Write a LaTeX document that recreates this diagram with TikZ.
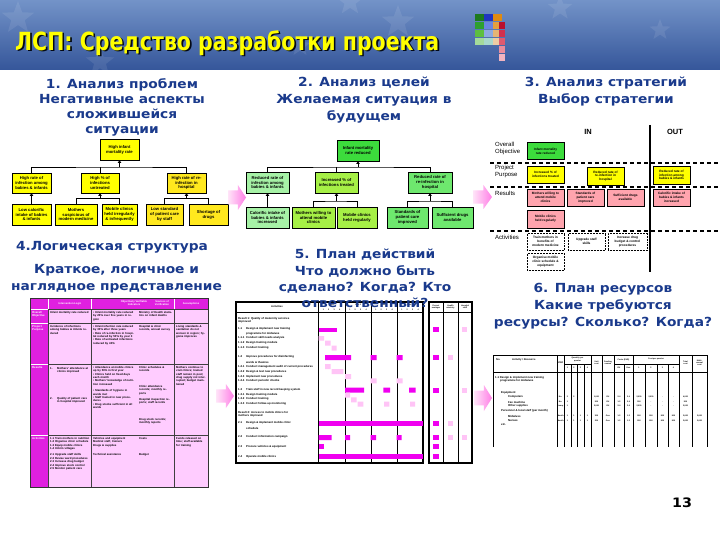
\documentclass[tikz,border=0pt]{standalone}
\usepackage{fontspec}
\setmainfont{Liberation Sans}
\newfontfamily\hdfont{DejaVu Sans}[FakeStretch=1.1]
\newfontfamily\ttlfont{DejaVu Sans}[FakeStretch=0.82]
\usetikzlibrary{arrows.meta,shapes.geometric}
\definecolor{navy}{HTML}{1A3A8C}
\definecolor{ylw}{HTML}{FFFF00}
\definecolor{ylw2}{HTML}{FFE81E}
\definecolor{gA}{HTML}{3CDC3C}
\definecolor{gL}{HTML}{A6F2A6}
\definecolor{gY}{HTML}{A6F046}
\definecolor{gM}{HTML}{6EE86E}
\definecolor{pkR}{HTML}{FFA4AE}
\definecolor{mag}{HTML}{E020E0}
\definecolor{lpk}{HTML}{FFCCFF}
\definecolor{bmag}{HTML}{F000F0}
\definecolor{blt}{HTML}{FFC4F6}
\definecolor{arrL}{HTML}{FFE4F8}
\definecolor{arrR}{HTML}{FF7EE6}
\definecolor{bandT}{HTML}{7393C8}
\definecolor{bandB}{HTML}{35569A}
\tikzset{
  tb/.style={draw=black,line width=0.5pt,align=center,inner sep=0pt,font=\fontsize{4.2}{4.9}\selectfont\bfseries},
  sb/.style={draw=black,line width=0.5pt,align=center,inner sep=0pt,minimum width=37pt,minimum height=17pt,font=\fontsize{3.2}{3.8}\selectfont\bfseries},
  ab/.style={sb,densely dotted,line width=0.7pt,fill=white},
  conn/.style={line width=0.7pt},
  arr/.style={-{Triangle[length=2.6pt,width=3.4pt]}},
  head/.style={font=\hdfont\bfseries\fontsize{12.5}{15}\selectfont,text=navy,align=center,inner sep=0pt},
  lbl/.style={font=\fontsize{6}{6.8}\selectfont,anchor=north west,inner sep=0pt,align=left},
  tx/.style={font=\fontsize{2.8}{3.4}\selectfont\bfseries,anchor=north west,inner sep=0pt,align=left},
  ty/.style={font=\fontsize{2.8}{3.3}\selectfont\bfseries,anchor=west,inner sep=0pt},
  tc/.style={font=\fontsize{2.6}{3}\selectfont\bfseries,inner sep=0pt,align=center},
  tq/.style={font=\fontsize{2}{2.2}\selectfont\bfseries,inner sep=0pt,align=center},
  pinkarrow/.pic={\shade[left color=arrL,right color=arrR] (0,0.22) -- (0.55,0.22) -- (0.55,0) -- (1,0.5) -- (0.55,1) -- (0.55,0.78) -- (0,0.78) -- cycle;},
}
\begin{document}
\begin{tikzpicture}[x=1pt,y=-1pt]
\useasboundingbox (0,0) rectangle (720,540);
\fill[white] (0,0) rectangle (720,540);
% ---------- title band
\shade[top color=bandT,bottom color=bandB] (0,0) rectangle (720,70);
\foreach \sx/\sy/\ss in {18/18/34,100/62/30,350/2/28,398/22/34,300/46/22,560/8/26,660/30/22}
  \node[star,star points=5,star point ratio=2.4,fill=white,opacity=0.09,minimum size=\ss pt,inner sep=0pt] at (\sx,\sy) {};
\node[font=\ttlfont\bfseries\fontsize{25}{25}\selectfont,text=black!85!navy,anchor=west,inner sep=0pt] (ttlS) at (16.6,44.6) {ЛСП: Средство разработки проекта};
\node[font=\ttlfont\bfseries\fontsize{25}{25}\selectfont,text=ylw,anchor=west,inner sep=0pt] (ttl) at (15,43) {ЛСП: Средство разработки проекта};
% logo
\foreach \r/\c in {0/1E7A1E,1/2EA02E,2/5DBF3F,3/A4DA9A} {\definecolor{tmpc}{HTML}{\c}\fill[tmpc] (475,14+\r*8) rectangle ++(8.5,7.5);}
\foreach \r/\c in {0/2036C0,1/6A86E0,2/8EAAE0,3/A8D8CC} {\definecolor{tmpc}{HTML}{\c}\fill[tmpc] (484,14+\r*8) rectangle ++(8.5,7.5);}
\foreach \r/\c in {0/E08A10,1/E3A040,2/E6B474,3/EDCCA4} {\definecolor{tmpc}{HTML}{\c}\fill[tmpc] (493,14+\r*8) rectangle ++(8.5,7.5);}
\foreach \r/\c in {0/B8102E,1/D0304E,2/E05A70,3/EA8C9C,4/F2B4C0} {\definecolor{tmpc}{HTML}{\c}\fill[tmpc] (499,22+\r*8) rectangle ++(5.5,7.5);}
% ---------- headings
\node[head,font=\hdfont\bfseries\fontsize{12.5}{15}\selectfont] (h1) at (122,107.5) {1. Анализ проблем\\Негативные аспекты\\сложившейся\\ситуации};
\node[head,font=\hdfont\bfseries\fontsize{12.5}{17}\selectfont] (h2) at (364,100) {2. Анализ целей\\Желаемая ситуация в\\будущем};
\node[head,font=\hdfont\bfseries\fontsize{12.5}{17}\selectfont] (h3) at (606,91.5) {3. Анализ стратегий\\Выбор стратегии};
\node[head] (h4a) at (112,247) {4.Логическая структура};
\node[head,font=\hdfont\bfseries\fontsize{12.5}{17}\selectfont] (h4b) at (116.5,278.5) {Краткое, логичное и\\наглядное представление};
\node[head,font=\hdfont\bfseries\fontsize{12.5}{17}\selectfont] (h6) at (603,306) {6. План ресурсов\\Какие требуются\\ресурсы? Сколько? Когда?};
% ---------- section 1 tree
\coordinate (b1) at (0,167);
\coordinate (b1s) at (0,198.5);
\node[tb,fill=ylw,minimum width=39pt,minimum height=21pt] (p0) at (119.5,149.5) {High infant\\mortality rate};
\node[tb,fill=ylw,minimum width=39pt,minimum height=20pt] (p1) at (31.5,183) {High rate of\\infection among\\babies \& infants};
\node[tb,fill=ylw,minimum width=38pt,minimum height=20pt] (p2) at (100,183) {High \% of\\infections\\untreated};
\node[tb,fill=ylw2,minimum width=39pt,minimum height=20pt] (p3) at (186.5,183) {High rate of re-\\infection in\\hospital};
\node[tb,fill=ylw,minimum width=39pt,minimum height=21pt] (p4) at (31.5,214.5) {Low calorific\\intake of babies\\\& infants};
\node[tb,fill=ylw,minimum width=42pt,minimum height=21pt] (p5) at (76,214.5) {Mothers\\suspicious of\\modern medicine};
\node[tb,fill=ylw,minimum width=35pt,minimum height=21pt] (p6) at (119.5,214.5) {Mobile clinics\\held irregularly\\\& infrequently};
\node[tb,fill=ylw2,minimum width=37pt,minimum height=21pt] (p7) at (164.5,214.5) {Low standard\\of patient care\\by staff};
\node[tb,fill=ylw2,minimum width=39pt,minimum height=21pt] (p8) at (208.5,214.5) {Shortage of\\drugs};
\draw[conn] (p1.north) |- (p0.south |- b1) -| (p3.north);
\draw[conn] (p2.north) -- (p2.north |- b1);
\draw[conn,arr] (p0.south |- b1) -- (p0.south);
\draw[conn,arr] (p4.north) -- (p1.south);
\draw[conn] (p5.north) |- (p2.south |- b1s) -| (p6.north);
\draw[conn,arr] (p2.south |- b1s) -- (p2.south);
\draw[conn] (p7.north) |- (p3.south |- b1s) -| (p8.north);
\draw[conn,arr] (p3.south |- b1s) -- (p3.south);
% ---------- section 2 tree
\coordinate (b2) at (0,167);
\coordinate (b2s) at (0,201);
\node[tb,fill=gA,minimum width=42pt,minimum height=21pt] (g0) at (358,150.5) {Infant mortality\\rate reduced};
\node[tb,fill=gL,minimum width=43pt,minimum height=21pt] (g1) at (267.5,182.5) {Reduced rate of\\infection among\\babies \& infants};
\node[tb,fill=gY,minimum width=43pt,minimum height=21pt] (g2) at (336.5,182.5) {Increased \% of\\infections treated};
\node[tb,fill=gM,minimum width=44pt,minimum height=21pt] (g3) at (430,182.5) {Reduced rate of\\re-infection in\\hospital};
\node[tb,fill=gL,minimum width=43pt,minimum height=21pt] (g4) at (267.5,217.5) {Calorific intake of\\babies \& infants\\increased};
\node[tb,fill=gY,minimum width=43pt,minimum height=21pt] (g5) at (313.5,217.5) {Mothers willing to\\attend mobile\\clinics};
\node[tb,fill=gY,minimum width=40pt,minimum height=21pt] (g6) at (357,217.5) {Mobile clinics\\held regularly};
\node[tb,fill=gM,minimum width=41pt,minimum height=21pt] (g7) at (407.5,217.5) {Standards of\\patient care\\improved};
\node[tb,fill=gM,minimum width=41pt,minimum height=21pt] (g8) at (452.5,217.5) {Sufficient drugs\\available};
\draw[conn] (g1.north) |- (g0.south |- b2) -| (g3.north);
\draw[conn] (g2.north) -- (g2.north |- b2);
\draw[conn,arr] (g0.south |- b2) -- (g0.south);
\draw[conn,arr] (g4.north) -- (g1.south);
\draw[conn] (g5.north) |- (g2.south |- b2s) -| (g6.north);
\draw[conn,arr] (g2.south |- b2s) -- (g2.south);
\draw[conn] (g7.north) |- (g3.south |- b2s) -| (g8.north);
\draw[conn,arr] (g3.south |- b2s) -- (g3.south);
% ---------- section 3 strategy
\node[font=\fontsize{7.5}{8}\selectfont\bfseries,inner sep=0pt] (in) at (588,132) {IN};
\node[font=\fontsize{7.5}{8}\selectfont\bfseries,inner sep=0pt] (out) at (675,132) {OUT};
\node[lbl] (l1) at (495,142) {Overall\\Objective};
\node[lbl] (l2) at (495,165) {Project\\Purpose};
\node[lbl] (l3) at (495,191) {Results};
\node[lbl] (l4) at (495,235) {Activities};
\draw[line width=1.5pt,dash pattern=on 4pt off 3pt] (490,163) -- (718,163) (490,187) -- (718,187) (490,231) -- (718,231);
\draw[line width=2.2pt] (650,125) -- (650,272);
\node[sb,fill=gA] (s0) at (545.5,151) {Infant mortality\\rate reduced};
\node[sb,fill=ylw] (s1) at (545.5,174.5) {Increased \% of\\infections treated};
\node[sb,fill=ylw,minimum height=18pt] (s2) at (605.5,176) {Reduced rate of\\re-infection in\\hospital};
\node[sb,fill=ylw,minimum height=18pt] (s3) at (671.5,175) {Reduced rate of\\infection among\\babies \& infants};
\node[sb,fill=pkR] (s4) at (545.5,197.5) {Mothers willing to\\attend mobile\\clinics};
\node[sb,fill=pkR] (s5) at (585.5,197.5) {Standards of\\patient care\\improved};
\node[sb,fill=pkR] (s6) at (625.5,197.5) {Sufficient drugs\\available};
\node[sb,fill=pkR] (s7) at (671.5,197.5) {Calorific intake of\\babies \& infants\\increased};
\node[sb,fill=pkR,minimum height=18pt] (s8) at (545.5,219) {Mobile clinics\\held regularly};
\node[ab] (s9) at (545.5,241.5) {Train mothers in\\benefits of\\modern medicine};
\node[ab] (s10) at (586.5,241.5) {Upgrade staff\\skills};
\node[ab,minimum width=39pt] (s11) at (627.5,241.5) {Increase drug\\budget \& control\\procedures};
\node[ab] (s12) at (545.5,261.5) {Organise mobile\\clinic schedule \&\\equipment};
% ---------- section 4 logframe
\fill[lpk] (30,298) rectangle (208,487);
\fill[mag] (30,298) rectangle (208,309);
\fill[mag] (30,298) rectangle (48,487);
\foreach \yy in {309,323,364,435} {\draw[white,line width=0.6pt] (30,\yy) -- (48,\yy); \draw[black!75,line width=0.45pt] (48,\yy) -- (208,\yy);}
\foreach \xx in {48,91,174} {\draw[white,line width=0.5pt] (\xx,298) -- (\xx,309); \draw[black!75,line width=0.45pt] (\xx,309) -- (\xx,487);}
\draw[black!80,line width=0.6pt] (30,298) rectangle (208,487);
\node[tc,text=white] (lh1) at (70,303.5) {Intervention Logic};
\node[tc,text=white] (lh2) at (134,303.5) {Objectively Verifiable\\Indicators};
\node[tc,text=white] (lh3) at (162,303.5) {Sources of\\Verification};
\node[tc,text=white] (lh4) at (191,303.5) {Assumptions};
\node[tx,text=white] (lv1) at (32,311) {Overall\\Objective};
\node[tx,text=white] (lv2) at (32,325) {Project\\Purpose};
\node[tx,text=white] (lv3) at (32,366) {Results};
\node[tx,text=white] (lv4) at (32,437) {Activities};
\node[tx,text width=40pt] (c11) at (50,311) {Infant mortality rate reduced};
\node[tx,text width=42pt] (c12) at (93,311) {• Infant mortality rate reduced by 20\% over five years in region};
\node[tx,text width=33pt] (c13) at (139,311) {Ministry of Health statistics on infant deaths};
\node[tx,text width=40pt] (c21) at (50,325) {Incidence of infections among babies \& infants reduced};
\node[tx,text width=42pt] (c22) at (93,325) {• Infant infection rate reduced by 30\% after three years\\• Rate of re-infection in hospital reduced by 50\% by year 3\\• Rate of untreated infections reduced by 40\%};
\node[tx,text width=33pt] (c23) at (139,325) {Hospital \& clinic records, annual survey};
\node[tx,text width=31pt] (c24) at (176,325) {Living standards \& sanitation do not worsen in region; hygiene improves};
\node[tx] (c31n) at (50,367) {1.};
\node[tx,text width=32pt] (c31) at (57,367) {Mothers' attendance at clinics improved};
\node[tx] (c32n) at (50,397) {2.};
\node[tx,text width=32pt] (c32) at (57,397) {Quality of patient care in hospital improved};
\node[tx,text width=42pt] (c33) at (93,366) {• Attendance at mobile clinics up by 50\% in first year\\• Clinics held on fixed days each month\\• Mothers' knowledge of nutrition increased\\[3pt]• Standards of hygiene in wards met\\• Staff trained in new procedures\\• Drug stocks sufficient in all wards};
\node[tx,text width=33pt] (c34) at (139,366) {Clinic schedules \& records};
\node[tx,text width=33pt] (c35) at (139,385) {Clinic attendance records; monthly reports\\[3pt]Hospital inspection reports; staff records};
\node[tx,text width=33pt] (c36) at (139,418) {Drug stock records; monthly reports};
\node[tx,text width=31pt] (c37) at (176,366) {Mothers continue to visit clinics; trained staff remain in post; drug supply not interrupted; budget maintained};
\node[tx,text width=40pt] (c41) at (50,437) {1.1 Train mothers in nutrition\\1.2 Organise clinic schedule\\1.3 Equip mobile clinics\\1.4 Inform villages\\[3pt]2.1 Upgrade staff skills\\2.2 Revise ward procedures\\2.3 Increase drug budget\\2.4 Improve stock control\\2.5 Monitor patient care};
\node[tx,text width=42pt] (c42) at (93,437) {Vehicles and equipment\\Medical staff, trainers\\Drugs \& supplies};
\node[tx,text width=42pt] (c43) at (93,453) {Technical assistance};
\node[tx,text width=33pt] (c44) at (139,437) {Costs};
\node[tx,text width=33pt] (c45) at (139,453) {Budget};
\node[tx,text width=31pt] (c46) at (176,437) {Funds released on time; staff available for training};
% ---------- section 5 activity plan
\fill[white] (236,302) rectangle (472,463);
\foreach \xx in {318,345,371,397} \draw[line width=0.7pt] (\xx,302) -- (\xx,463);
\foreach \xx in {443,458} \draw[line width=0.7pt] (\xx,302) -- (\xx,463);
\draw[line width=0.7pt] (236,312.5) -- (423,312.5) (429,312.5) -- (472,312.5);
\draw[line width=1.2pt] (236,302) rectangle (423,463);
\draw[line width=1.2pt] (429,302) rectangle (472,463);
\node[tc] (ah) at (277,307) {Activities};
\foreach \xx/\yr in {331.5/1,358/2,384/3,410/4} {\node[tq] at (\xx,304.6) {Year \yr}; \foreach \q in {1,2,3,4} \node[tq] at (\xx-13.5+\q*5.4,309.6) {\q};}
\node[tq] (ar1) at (436,307) {Project\\manager};
\node[tq] (ar2) at (450.5,307) {Health\\ministry};
\node[tq] (ar3) at (465,307) {Hospital\\staff};
\node[tx] at (238,317) {Result 1: Quality of maternity services\\improved};
\foreach \yy/\nn/\ta in {329/1.1/Design \& implement new training,338/1.1.1/Conduct skill needs analysis,343/1.1.2/Design training module,348/1.1.3/Conduct training,357/1.2/Improve procedures for disinfecting,367/1.2.1/Conduct management audit of current procedures,372/1.2.2/Design \& test new procedures,377/1.2.3/Implement new procedures,381/1.2.4/Conduct periodic checks,390/1.3/Train staff in new record keeping system,395/1.3.1/Design training module,399/1.3.2/Conduct training,404/1.3.3/Conduct follow-up monitoring,423/2.1/Design \& implement mobile clinic,437/2.2/Conduct information campaign,447/2.3/Procure vehicles \& equipment,457/2.4/Operate mobile clinics}
  {\node[ty] at (238,\yy) {\nn}; \node[ty] at (246,\yy) {\ta};}
\node[ty] at (246,333.5) {programme for midwives};
\node[ty] at (246,362) {wards \& theatres};
\node[ty] at (246,428) {schedule};
\node[tx] at (238,411) {Result 2: Access to mobile clinics for\\mothers improved};
\tikzset{bm/.style={fill=bmag},bl/.style={fill=blt}}
\fill[bm] (318.5,327.5) rectangle (336.5,332);
\fill[bl] (318.5,336) rectangle (324,340.7) (325,340.7) rectangle (330.7,345.7) (331.7,345.7) rectangle (336.7,350.7);
\fill[bm] (325,355) rectangle (351,360) (370.7,355) rectangle (376.7,360) (396.7,355) rectangle (402.7,360);
\fill[bl] (325,364) rectangle (330.7,369) (331.7,369) rectangle (343.3,374) (345,374) rectangle (351,379);
\fill[bl] (370.7,378.3) rectangle (376.7,383.3) (396.7,378.3) rectangle (402.7,383.3);
\fill[bm] (345,387.7) rectangle (364,392.7) (383.3,387.7) rectangle (390,392.7) (409,387.7) rectangle (415.7,392.7);
\fill[bl] (345,392.7) rectangle (350,397.7) (351,397.3) rectangle (356.7,402.3) (357.7,401.7) rectangle (363.3,406.7) (384,401.7) rectangle (389.3,406.7) (410,401.7) rectangle (415,406.7);
\fill[bm] (318.5,421) rectangle (422.5,426);
\fill[bm] (318.5,435) rectangle (331.7,440) (345,435) rectangle (350,440) (370.7,435) rectangle (376,440) (396.7,435) rectangle (401.7,440);
\fill[bm] (318.5,444.3) rectangle (324,449.3);
\fill[bm] (318.5,454) rectangle (422.5,459);
\foreach \yy in {327.3,355,387.7,421,435,444.3,454} \fill[bm] (433.3,\yy) rectangle (439,\yy+5);
\foreach \yy in {355,421,435} \fill[bl] (448.3,\yy) rectangle (452.7,\yy+5);
\foreach \yy in {327.3,387.7,435} \fill[bl] (462.3,\yy) rectangle (467.3,\yy+5);
\node[head,font=\hdfont\bfseries\fontsize{12.5}{16.3}\selectfont] (h5) at (365,278.5) {5. План действий\\Что должно быть\\сделано? Когда? Кто\\ответственный?};
% ---------- section 6 resource plan
\draw[line width=0.8pt] (493,447) -- (493,355) -- (707,355) -- (707,447);
\draw[line width=0.6pt] (493,372) -- (707,372);
\foreach \xx in {557,564,591,602,614,633,679,692} \draw[line width=0.5pt] (\xx,355) -- (\xx,447);
\foreach \xx in {571,577,584,624,645,657,668} \draw[line width=0.4pt] (\xx,364) -- (\xx,447);
\draw[line width=0.4pt] (564,364) -- (591,364) (614,364) -- (679,364);
\node[tc,anchor=west] (rh1) at (496,360) {No.};
\node[tc,anchor=west] (rh2) at (512,360) {Activity / Resource};
\node[tc] (rh3) at (560.5,363) {Unit};
\node[tq] (rh4) at (577.5,359.5) {Quantity per\\quarter};
\node[tq] (rh5) at (596.5,363) {Unit\\cost};
\node[tq] (rh6) at (608,363) {Funding\\source};
\node[tq] (rh7) at (623.5,359.5) {Costs (EUR)};
\node[tq] (rh8) at (656,359.5) {Cost per quarter};
\node[tq] (rh9) at (685.5,363) {Total\\cost};
\node[tq] (rh10) at (699.5,363) {Multi-\\annual\\cost};
\foreach \xx/\q in {567.5/1,574/2,580.5/3,587.5/4,639/1,651/2,662.5/3,673.5/4} \node[tq] at (\xx,368) {\q};
\node[tq] at (619,368) {EU}; \node[tq] at (628.5,368) {Gov.};
\node[tx] at (495,376) {1.1 Design \& implement new training\\\hspace*{5pt}programme for midwives};
\node[ty] at (501,393) {Equipment};
\node[ty] at (508,397) {Computers};
\node[ty] at (508,402) {Fax machine};
\node[ty] at (508,406) {Other supplies};
\node[ty] at (501,411) {Personnel \& local staff (per month)};
\node[ty] at (508,416) {Midwives};
\node[ty] at (508,421) {Nurses};
\node[ty] at (501,425) {etc.};
\foreach \yy/\u/\qa/\qb/\uc/\cc/\ca/\cb/\tot in {{397/No./2/2/{1,000}/2.4/{2,000}/{2,000}/{4,000}},{402/No./1/ /500/1.2/500/-/500},{406/Lump/1/ /{2,000}/2.4/{2,000}/-/{2,000}}}
  {\node[tq] at (560.5,\yy) {\u}; \node[tq] at (567.5,\yy) {\qa}; \node[tq] at (574,\yy) {\qb}; \node[tq] at (596.5,\yy) {\uc}; \node[tq] at (608,\yy) {EU}; \node[tq] at (619,\yy) {\cc}; \node[tq] at (628.5,\yy) {2.4}; \node[tq] at (639,\yy) {\ca}; \node[tq] at (651,\yy) {\cb}; \node[tq] at (662.5,\yy) {-}; \node[tq] at (673.5,\yy) {-}; \node[tq] at (685.5,\yy) {\tot};}
\foreach \yy/\u/\uc in {416/Month/300,421/Month/200}
  {\node[tq] at (560.5,\yy) {\u}; \foreach \xx in {567.5,574,580.5,587.5} \node[tq] at (\xx,\yy) {1}; \node[tq] at (596.5,\yy) {\uc}; \node[tq] at (608,\yy) {Gov.}; \node[tq] at (619,\yy) {1.2}; \node[tq] at (628.5,\yy) {1.2}; \foreach \xx in {639,651,662.5,673.5} \node[tq] at (\xx,\yy) {900}; \node[tq] at (685.5,\yy) {{3,600}}; \node[tq] at (699.5,\yy) {{3,600}};}
% ---------- pink arrows
\pic[xscale=18,yscale=25] at (228,185) {pinkarrow};
\pic[xscale=19,yscale=24] at (473,185) {pinkarrow};
\pic[xscale=18,yscale=24] at (216,384) {pinkarrow};
\pic[xscale=18,yscale=26] at (474,385) {pinkarrow};
% ---------- page number
\node[font=\hdfont\bfseries\fontsize{13}{13}\selectfont,inner sep=0pt] (pg) at (682,503) {13};
\end{tikzpicture}
\end{document}
